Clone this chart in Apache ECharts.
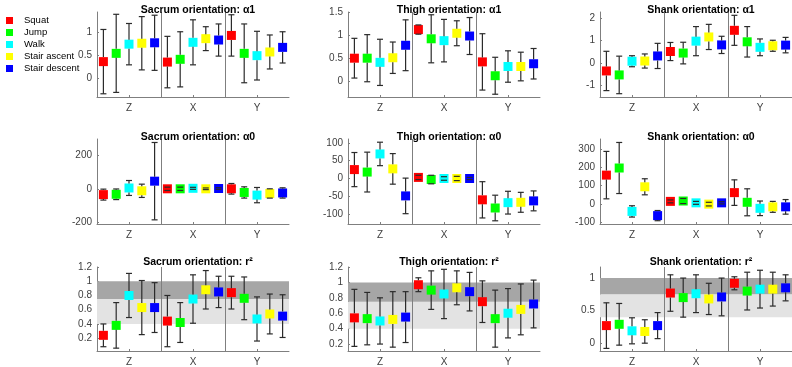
<!DOCTYPE html>
<html>
<head>
<meta charset="utf-8">
<script src="https://cdn.jsdelivr.net/npm/echarts@6/dist/echarts.min.js"></script>
<style>
    html, body { margin: 0; padding: 0; background: #ffffff; }
    #echarts-orientation { width: 792px; height: 367px; }
</style>
</head>
<body>
<div id="echarts-orientation"></div>
<script>
const ACTIVITIES = ['Squat', 'Jump', 'Walk', 'Stair ascent', 'Stair descent'];
const ACTIVITY_COLORS = ['#ff0000', '#00ff00', '#00ffff', '#ffff00', '#0000ff'];
const AXIS_NAMES = ['Z', 'X', 'Y'];

/* Values per panel, ordered Z (5 activities), X (5), Y (5). Error bars are mean +/- sd. */
const sacrumA1Mean = [0.36, 0.54, 0.74, 0.76, 0.77, 0.35, 0.41, 0.78, 0.86, 0.83, 0.93, 0.54, 0.49, 0.57, 0.67];
const sacrumA1Sd = [0.70, 0.85, 0.45, 0.58, 0.60, 0.56, 0.60, 0.49, 0.26, 0.35, 0.45, 0.64, 0.53, 0.37, 0.34];
const thighA1Mean = [0.50, 0.50, 0.41, 0.51, 0.78, 1.12, 0.92, 0.88, 1.04, 0.98, 0.42, 0.12, 0.32, 0.32, 0.38];
const thighA1Sd = [0.43, 0.51, 0.50, 0.34, 0.55, 0.10, 0.52, 0.46, 0.27, 0.40, 0.61, 0.40, 0.34, 0.31, 0.33];
const shankA1Mean = [-0.37, -0.55, 0.07, 0.08, 0.31, 0.51, 0.44, 0.98, 1.17, 0.81, 1.47, 0.95, 0.70, 0.77, 0.80];
const shankA1Sd = [0.89, 0.85, 0.25, 0.32, 0.57, 0.41, 0.49, 0.66, 0.57, 0.39, 0.68, 0.69, 0.38, 0.25, 0.35];

const sacrumA0Mean = [-35, -33, 5, -12, 46, 0, 0, 3, 0, 2, 0, -22, -38, -28, -25];
const sacrumA0Sd = [33, 32, 45, 40, 233, 10, 10, 6, 5, 5, 32, 34, 46, 28, 31];
const thighA0Mean = [25, 18, 69, 27, -49, 3, -3, 0, 0, 0, -60, -83, -68, -67, -63];
const thighA0Sd = [48, 56, 33, 43, 50, 6, 12, 5, 6, 3, 51, 36, 32, 28, 28];
const shankA0Mean = [157, 196, -42, 93, -65, 13, 15, 5, -2, 5, 61, 8, -25, -17, -17];
const shankA0Sd = [130, 140, 31, 44, 28, 8, 14, 8, 10, 6, 70, 74, 40, 30, 40];

const sacrumR2Mean = [0.24, 0.38, 0.80, 0.63, 0.63, 0.44, 0.42, 0.75, 0.88, 0.85, 0.84, 0.76, 0.47, 0.54, 0.51];
const sacrumR2Sd = [0.16, 0.32, 0.31, 0.38, 0.35, 0.36, 0.28, 0.34, 0.27, 0.22, 0.23, 0.30, 0.31, 0.28, 0.30];
const thighR2Mean = [0.54, 0.53, 0.50, 0.52, 0.55, 0.97, 0.90, 0.85, 0.93, 0.88, 0.75, 0.53, 0.60, 0.65, 0.72];
const thighR2Sd = [0.37, 0.34, 0.30, 0.36, 0.33, 0.09, 0.25, 0.32, 0.22, 0.25, 0.27, 0.37, 0.32, 0.33, 0.31];
const shankR2Mean = [0.27, 0.29, 0.19, 0.18, 0.27, 0.77, 0.70, 0.76, 0.68, 0.71, 0.92, 0.80, 0.83, 0.83, 0.85];
const shankR2Sd = [0.35, 0.32, 0.20, 0.18, 0.20, 0.28, 0.30, 0.29, 0.24, 0.29, 0.10, 0.29, 0.29, 0.26, 0.20];

/* Tick labels of each y axis. */
const sacrumA1Ticks = [0, 0.5, 1];
const thighA1Ticks = [0, 0.5, 1, 1.5];
const shankA1Ticks = [-1, 0, 1, 2];
const sacrumA0Ticks = [-200, 0, 200];
const thighA0Ticks = [-100, -50, 0, 50, 100];
const shankA0Ticks = [-100, 0, 100, 200, 300];
const sacrumR2Ticks = [0.2, 0.4, 0.6, 0.8, 1, 1.2];
const thighR2Ticks = [0.2, 0.4, 0.6, 0.8, 1, 1.2];
const shankR2Ticks = [0, 0.5, 1];

/* r^2 reference bands. */
const R2_BANDS = [[0.4, 0.75], [0.75, 1]];

const FONT = "'Liberation Sans', Arial, sans-serif";
const AXIS_COLOR = '#7f7f7f';
const LABEL_COLOR = '#404040';
const MARKER_SIZE = 9;

let panels = [
    {title: 'Sacrum orientation: α1', mean: sacrumA1Mean, sd: sacrumA1Sd, ticks: sacrumA1Ticks, min: -0.41, max: 1.44},
    {title: 'Thigh orientation: α1', mean: thighA1Mean, sd: thighA1Sd, ticks: thighA1Ticks, min: -0.34, max: 1.5},
    {title: 'Shank orientation: α1', mean: shankA1Mean, sd: shankA1Sd, ticks: shankA1Ticks, min: -1.55, max: 2.3},
    {title: 'Sacrum orientation: α0', mean: sacrumA0Mean, sd: sacrumA0Sd, ticks: sacrumA0Ticks, min: -212, max: 300},
    {title: 'Thigh orientation: α0', mean: thighA0Mean, sd: thighA0Sd, ticks: thighA0Ticks, min: -128, max: 111},
    {title: 'Shank orientation: α0', mean: shankA0Mean, sd: shankA0Sd, ticks: shankA0Ticks, min: -111, max: 355},
    {title: 'Sacrum orientation: r²', mean: sacrumR2Mean, sd: sacrumR2Sd, ticks: sacrumR2Ticks, min: 0.02, max: 1.2, bands: true},
    {title: 'Thigh orientation: r²', mean: thighR2Mean, sd: thighR2Sd, ticks: thighR2Ticks, min: 0.11, max: 1.2, bands: true},
    {title: 'Shank orientation: r²', mean: shankR2Mean, sd: shankR2Sd, ticks: shankR2Ticks, min: -0.12, max: 1.17, bands: true}
];

const COL_LEFT = [97, 348, 600];
const ROW_TOP = [12, 139, 267];
const GRID_WIDTH = 192;
const GRID_HEIGHT = 85;
const TITLE_TOP = [0, 127, 252];

/* Whisker drawn above the markers, leaving a gap where the square sits so only caps show through small bars. */
function renderErrorBar(params, api) {
    let x = api.value(0);
    let low = api.coord([x, api.value(1)]);
    let high = api.coord([x, api.value(2)]);
    let mid = api.coord([x, api.value(3)]);
    let half = 3;
    let gap = MARKER_SIZE / 2;
    let style = {stroke: '#2b2b2b', lineWidth: 1.2};
    let children = [
        {type: 'line', shape: {x1: high[0] - half, y1: high[1], x2: high[0] + half, y2: high[1]}, style: style},
        {type: 'line', shape: {x1: low[0] - half, y1: low[1], x2: low[0] + half, y2: low[1]}, style: style}
    ];
    if (mid[1] - gap > high[1]) {
        children.push({type: 'line', shape: {x1: high[0], y1: high[1], x2: mid[0], y2: mid[1] - gap}, style: style});
    }
    if (mid[1] + gap < low[1]) {
        children.push({type: 'line', shape: {x1: low[0], y1: low[1], x2: mid[0], y2: mid[1] + gap}, style: style});
    }
    return {type: 'group', children: children};
}

let grids = [], xAxes = [], yAxes = [], titles = [], series = [];

panels.forEach(function (panel, p) {
    let row = Math.floor(p / 3), col = p % 3;
    grids.push({left: COL_LEFT[col], top: ROW_TOP[row], width: GRID_WIDTH, height: GRID_HEIGHT});
    titles.push({
        text: panel.title,
        left: COL_LEFT[col] + GRID_WIDTH / 2,
        top: TITLE_TOP[row],
        textAlign: 'center',
        textStyle: {fontFamily: FONT, fontSize: 10.5, fontWeight: 'bold', color: '#000000'}
    });
    xAxes.push({
        gridIndex: p,
        type: 'value',
        min: 0,
        max: 15,
        splitLine: {show: false},
        axisLine: {show: true, onZero: false, lineStyle: {color: AXIS_COLOR, width: 1}},
        axisTick: {show: true, inside: true, length: 2, customValues: [2.5, 7.5, 12.5], lineStyle: {color: AXIS_COLOR}},
        axisLabel: {
            customValues: [2.5, 7.5, 12.5],
            formatter: function (v) { return AXIS_NAMES[Math.floor(v / 5)]; },
            color: LABEL_COLOR, fontFamily: FONT, fontSize: 10, margin: 6
        }
    });
    yAxes.push({
        gridIndex: p,
        type: 'value',
        min: panel.min,
        max: panel.max,
        splitLine: {show: false},
        axisLine: {show: true, onZero: false, lineStyle: {color: AXIS_COLOR, width: 1}},
        axisTick: {show: true, inside: true, length: 2, customValues: panel.ticks, lineStyle: {color: AXIS_COLOR}},
        axisLabel: {customValues: panel.ticks, color: LABEL_COLOR, fontFamily: FONT, fontSize: 10, margin: 5}
    });

    /* Background: group separators and r^2 bands. */
    let background = {
        type: 'scatter',
        xAxisIndex: p,
        yAxisIndex: p,
        data: [],
        z: 1,
        silent: true,
        markLine: {
            silent: true,
            symbol: 'none',
            label: {show: false},
            lineStyle: {color: AXIS_COLOR, width: 1, type: 'solid'},
            data: [{xAxis: 5}, {xAxis: 10}]
        }
    };
    if (panel.bands) {
        background.markArea = {
            silent: true,
            data: [
                [{yAxis: R2_BANDS[0][0], itemStyle: {color: '#e3e3e3'}}, {yAxis: R2_BANDS[0][1]}],
                [{yAxis: R2_BANDS[1][0], itemStyle: {color: '#a6a6a6'}}, {yAxis: R2_BANDS[1][1]}]
            ]
        };
    }
    series.push(background);

    /* Square markers, one series per activity. */
    ACTIVITIES.forEach(function (name, a) {
        let points = [];
        for (let g = 0; g < 3; g++) {
            let i = g * 5 + a;
            points.push([i + 0.5, panel.mean[i]]);
        }
        series.push({
            name: name,
            type: 'scatter',
            xAxisIndex: p,
            yAxisIndex: p,
            symbol: 'rect',
            symbolSize: MARKER_SIZE,
            itemStyle: {color: ACTIVITY_COLORS[a], opacity: 1},
            emphasis: {disabled: true},
            data: points,
            z: 3
        });
    });

    /* Error bars. */
    let bars = panel.mean.map(function (m, i) {
        return [i + 0.5, m - panel.sd[i], m + panel.sd[i], m];
    });
    series.push({
        type: 'custom',
        xAxisIndex: p,
        yAxisIndex: p,
        renderItem: renderErrorBar,
        encode: {x: 0, y: [1, 2]},
        data: bars,
        z: 4,
        silent: true
    });
});

let chart = echarts.init(document.getElementById('echarts-orientation'));
let option = {
    animation: false,
    backgroundColor: '#ffffff',
    color: ACTIVITY_COLORS,
    title: titles,
    legend: {
        data: ACTIVITIES,
        orient: 'vertical',
        left: 1,
        top: 10,
        itemWidth: 7,
        itemHeight: 7,
        itemGap: 1,
        icon: 'rect',
        textStyle: {fontFamily: FONT, fontSize: 9.5, color: '#000000', padding: [0, 0, 0, 6], lineHeight: 11}
    },
    grid: grids,
    xAxis: xAxes,
    yAxis: yAxes,
    series: series
};
chart.setOption(option);
</script>
</body>
</html>
